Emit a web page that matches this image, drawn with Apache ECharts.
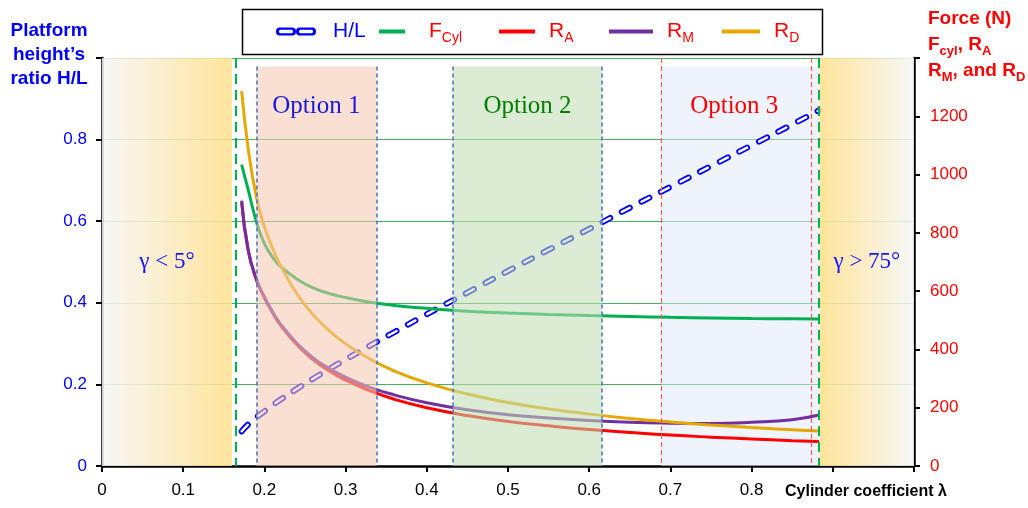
<!DOCTYPE html>
<html>
<head>
<meta charset="utf-8">
<script src="https://cdn.jsdelivr.net/npm/echarts@6/dist/echarts.min.js"></script>
<style>html,body{margin:0;padding:0;background:#fff}#c{width:1028px;height:508px}</style>
</head>
<body>
<div id="c"></div>
<script>
// ---- data ----
const lambda = [0.172, 0.18, 0.19, 0.2, 0.21, 0.22, 0.24, 0.26, 0.28, 0.3, 0.33, 0.36, 0.4, 0.45, 0.5, 0.55, 0.6, 0.65, 0.7, 0.75, 0.8, 0.85, 0.883];
const hRatio = [0.085, 0.102, 0.119, 0.134, 0.149, 0.163, 0.189, 0.214, 0.238, 0.261, 0.295, 0.328, 0.372, 0.425, 0.478, 0.530, 0.581, 0.633, 0.684, 0.735, 0.786, 0.837, 0.872];
const fCyl = [1034, 948, 840, 763, 717, 684, 642, 611, 592, 578, 562, 551, 541, 531, 525, 520, 516, 513, 510, 508, 506, 505, 504];
const rA = [905, 740, 640, 577, 526, 483, 416, 365, 326, 295, 258, 229, 200, 173, 153, 138, 125, 115, 106, 99, 93, 87, 84];
const rM = [911, 742, 643, 580, 530, 487, 421, 371, 334, 305, 270, 244, 217, 193, 176, 165, 156, 150, 147, 146, 150, 159, 175];
const rD = [1286, 1090, 925, 821, 748, 687, 591, 519, 464, 419, 367, 326, 285, 247, 218, 196, 178, 163, 151, 141, 132, 124, 120];
const xTicks = [0, 0.1, 0.2, 0.3, 0.4, 0.5, 0.6, 0.7, 0.8];
const leftTicks = [0, 0.2, 0.4, 0.6, 0.8];
const rightTicks = [0, 200, 400, 600, 800, 1000, 1200];
// regions (lambda)
const zoneLow = [0, 0.16];
const zoneHigh = [0.884, 1];
const validLimits = [0.165, 0.883];
const option1 = [0.19, 0.338];
const option2 = [0.432, 0.616];
const option3 = [0.689, 0.873];
const optionTop = 0.979;

const pairs = ys => lambda.map((x, i) => [x, ys[i]]);
const SF = "'Liberation Sans',Arial,sans-serif";
const SERIF = "'Liberation Serif','Times New Roman',serif";

const chart = echarts.init(document.getElementById('c'), null, {renderer: 'canvas'});

const subRich = {
  n: {fontSize: 21, fontFamily: SF, color: '#ff0000', lineHeight: 28, verticalAlign: 'middle'},
  s: {fontSize: 14, fontFamily: SF, color: '#ff0000', lineHeight: 28, verticalAlign: 'bottom'},
  b: {fontSize: 21, fontFamily: SF, color: '#0000ff', lineHeight: 28, verticalAlign: 'middle'}
};
const legendText = {
  'H/L': '{b|H/L}',
  'Fcyl': '{n|F}{s|Cyl}',
  'RA': '{n|R}{s|A}',
  'RM': '{n|R}{s|M}',
  'RD': '{n|R}{s|D}'
};
// two hollow capsules (40 x 8)
const capsuleIcon = 'path://M2,0 H16 A4,4 0 0 1 16,8 H2 A4,4 0 0 1 2,0 Z M3,2.2 A1.8,1.8 0 0 0 3,5.8 H15 A1.8,1.8 0 0 0 15,2.2 Z ' +
  'M24,0 H38 A4,4 0 0 1 38,8 H24 A4,4 0 0 1 24,0 Z M25,2.2 A1.8,1.8 0 0 0 25,5.8 H37 A1.8,1.8 0 0 0 37,2.2 Z';
function mkLegend(name, left, w, h, pad, icon) {
  return {
    data: [{name: name, icon: icon}], left: left, top: 16, itemWidth: w, itemHeight: h,
    symbolKeepAspect: false,
    formatter: n => legendText[n],
    textStyle: {rich: subRich, padding: [0, 0, 0, pad]},
    selectedMode: false
  };
}

function vline(x, top, color, width, type) {
  return [{coord: [x, top], lineStyle: {color: color, width: width, type: type}}, {coord: [x, 0]}];
}

const option = {
  animation: false,
  backgroundColor: '#ffffff',
  grid: {left: 102, right: 114, top: 58, bottom: 42},
  legend: [
    mkLegend('H/L', 271, 40, 8, 12, capsuleIcon),
    mkLegend('Fcyl', 374, 26, 4, 19, 'rect'),
    mkLegend('RA', 494, 36, 4, 9, 'rect'),
    mkLegend('RM', 604, 44, 4, 9, 'rect'),
    mkLegend('RD', 717, 38, 4, 9, 'rect')
  ],
  xAxis: {
    type: 'value', min: 0, max: 1, interval: 0.1,
    axisLine: {show: true, lineStyle: {color: '#000', width: 2.5}},
    axisTick: {show: true, length: 6, lineStyle: {color: '#000', width: 2}},
    axisLabel: {
      margin: 16, color: '#000', fontSize: 17, fontFamily: SF,
      formatter: v => xTicks.some(t => Math.abs(t - v) < 1e-6) ? String(+v.toFixed(1)) : ''
    },
    splitLine: {show: false}
  },
  yAxis: [
    {
      type: 'value', min: 0, max: 1, interval: 0.2, position: 'left',
      axisLine: {show: true, lineStyle: {color: '#000', width: 2.5}},
      axisTick: {show: true, length: 6, lineStyle: {color: '#000', width: 2}},
      axisLabel: {
        margin: 15, color: '#0000ff', fontSize: 17, fontFamily: SF,
        formatter: v => leftTicks.some(t => Math.abs(t - v) < 1e-6) ? String(+v.toFixed(1)) : ''
      },
      splitLine: {show: true, lineStyle: {color: '#3cb462', width: 1}}
    },
    {
      type: 'value', min: 0, max: 1400, interval: 200, position: 'right',
      axisLine: {show: true, lineStyle: {color: '#000', width: 2.5}},
      axisTick: {show: true, length: 6, lineStyle: {color: '#000', width: 2}},
      axisLabel: {
        margin: 16, color: '#ff0000', fontSize: 17, fontFamily: SF,
        formatter: v => rightTicks.indexOf(v) >= 0 ? String(v) : ''
      },
      splitLine: {show: false}
    }
  ],
  series: [
    {
      name: 'underlay', type: 'line', yAxisIndex: 0, data: [], symbol: 'none', z: 1, silent: true,
      markArea: {
        silent: true, z: 1,
        data: [
          [{coord: [option3[0], optionTop], itemStyle: {color: 'rgba(223,231,249,0.5)'},
            label: {show: true, position: 'insideTop', distance: 27, formatter: 'Option 3', color: '#ff0000', fontSize: 25, fontFamily: SERIF, offset: [-6, 0]}},
           {coord: [validLimits[1], 0]}]
        ]
      }
    },
    {
      name: 'H/L', type: 'line', yAxisIndex: 0, data: pairs(hRatio), smooth: true, symbol: 'none', z: 2,
      lineStyle: {color: '#0000ff', width: 6, type: [9, 13], cap: 'round'},
      itemStyle: {color: '#0000ff'}
    },
    {
      name: 'H/L inner', type: 'line', yAxisIndex: 0, data: pairs(hRatio), smooth: true, symbol: 'none', z: 2,
      lineStyle: {color: '#ffffff', width: 2.4, type: [9, 13], cap: 'round'}, silent: true
    },
    {
      name: 'Fcyl', type: 'line', yAxisIndex: 1, data: pairs(fCyl), smooth: true, symbol: 'none', z: 2,
      lineStyle: {color: '#00b050', width: 3}, itemStyle: {color: '#00b050'}
    },
    {
      name: 'RA', type: 'line', yAxisIndex: 1, data: pairs(rA), smooth: true, symbol: 'none', z: 2,
      lineStyle: {color: '#ff0000', width: 3}, itemStyle: {color: '#ff0000'}
    },
    {
      name: 'RM', type: 'line', yAxisIndex: 1, data: pairs(rM), smooth: true, symbol: 'none', z: 2,
      lineStyle: {color: '#7030a0', width: 3}, itemStyle: {color: '#7030a0'}
    },
    {
      name: 'RD', type: 'line', yAxisIndex: 1, data: pairs(rD), smooth: true, symbol: 'none', z: 2,
      lineStyle: {color: '#e6a800', width: 3}, itemStyle: {color: '#e6a800'}
    },
    {
      name: 'overlay', type: 'line', yAxisIndex: 0, data: [], symbol: 'none', z: 5, silent: true,
      markArea: {
        silent: true, z: 6,
        data: [
          [{xAxis: zoneLow[0], itemStyle: {color: {type: 'linear', x: 0, y: 0, x2: 1, y2: 0,
              colorStops: [{offset: 0, color: 'rgba(246,246,246,0.85)'}, {offset: 1, color: 'rgba(255,224,140,0.88)'}]}},
            label: {show: true, position: 'inside', formatter: 'γ < 5°', color: '#1414ff', fontSize: 23, fontFamily: SERIF}},
           {xAxis: zoneLow[1]}],
          [{xAxis: zoneHigh[0], itemStyle: {color: {type: 'linear', x: 0, y: 0, x2: 1, y2: 0,
              colorStops: [{offset: 0, color: 'rgba(255,224,140,0.88)'}, {offset: 1, color: 'rgba(246,246,246,0.85)'}]}},
            label: {show: true, position: 'inside', formatter: 'γ > 75°', color: '#1414ff', fontSize: 23, fontFamily: SERIF}},
           {xAxis: zoneHigh[1]}],
          [{coord: [option1[0], optionTop], itemStyle: {color: 'rgba(246,200,175,0.56)'},
            label: {show: true, position: 'insideTop', distance: 27, formatter: 'Option 1', color: '#1a1ad6', fontSize: 25, fontFamily: SERIF}},
           {coord: [option1[1], 0]}],
          [{coord: [option2[0], optionTop], itemStyle: {color: 'rgba(193,220,178,0.56)'},
            label: {show: true, position: 'insideTop', distance: 27, formatter: 'Option 2', color: '#008000', fontSize: 25, fontFamily: SERIF}},
           {coord: [option2[1], 0]}]
        ]
      },
      markLine: {
        silent: true, z: 7, symbol: ['none', 'none'], label: {show: false},
        data: [
          vline(validLimits[0], 1, '#00b050', 2, [10, 6]),
          vline(validLimits[1], 1, '#00b050', 2, [10, 6]),
          vline(option1[0], optionTop, '#4472c4', 1.5, [4, 3]),
          vline(option1[1], optionTop, '#4472c4', 1.5, [4, 3]),
          vline(option2[0], optionTop, '#4472c4', 1.5, [4, 3]),
          vline(option2[1], optionTop, '#4472c4', 1.5, [4, 3]),
          vline(option3[0], 1, '#ff5a5a', 1.2, [5, 3]),
          vline(option3[1], 1, '#ff5a5a', 1.2, [5, 3])
        ]
      }
    }
  ],
  graphic: [
    {type: 'rect', left: 240, top: 7, shape: {width: 580, height: 45}, style: {fill: 'none', stroke: '#000', lineWidth: 1.5}, silent: true},
    {type: 'text', x: 49, y: 19, style: {
      text: 'Platform\nheight’s\nratio H/L', fill: '#0000ff', font: "bold 19px 'Liberation Sans', Arial, sans-serif",
      lineHeight: 24, align: 'center', verticalAlign: 'top'}, silent: true},
    {type: 'text', left: 928, top: 9, style: {
      text: '{t|Force (N)}\n{t|F}{s|cyl}{t|, R}{s|A}\n{t|R}{s|M}{t|, and R}{s|D}',
      rich: {
        t: {fontSize: 19, fontWeight: 'bold', fontFamily: SF, fill: '#ff0000', color: '#ff0000', lineHeight: 26, verticalAlign: 'middle'},
        s: {fontSize: 13, fontWeight: 'bold', fontFamily: SF, fill: '#ff0000', color: '#ff0000', lineHeight: 26, verticalAlign: 'bottom'}
      }}, silent: true},
    {type: 'text', left: 785, top: 484, style: {
      text: 'Cylinder coefficient λ', fill: '#000', font: "bold 16px 'Liberation Sans', Arial, sans-serif"}, silent: true}
  ]
};
chart.setOption(option);
</script>
</body>
</html>
